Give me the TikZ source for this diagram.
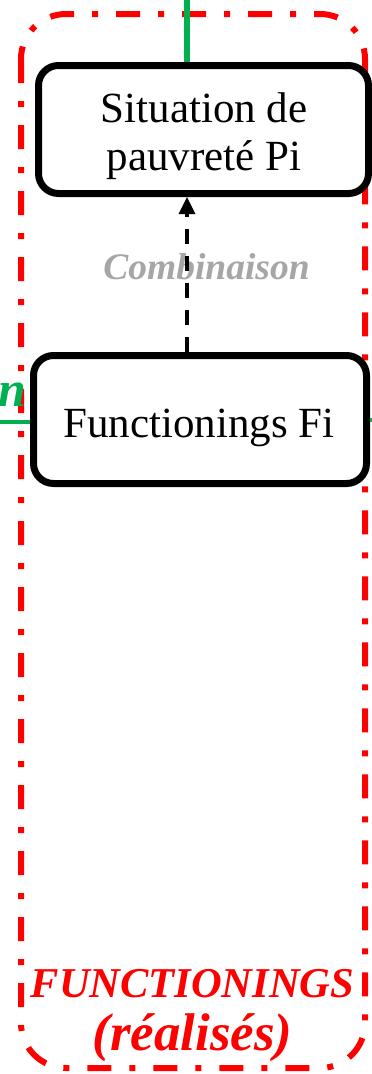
\documentclass[tikz,border=0pt]{standalone}
\usepackage{fontspec}
\setmainfont{Liberation Serif}
\usetikzlibrary{arrows.meta}
\definecolor{vert}{HTML}{00B050}
\definecolor{gris}{HTML}{A6A6A6}
\tikzset{
  box/.style={draw=black, line width=7pt, rounded corners=20pt, fill=white, inner sep=0pt},
  boxtext/.style={align=center, inner sep=0pt, font=\fontsize{43}{48}\selectfont},
  frame/.style={draw=red, line width=6pt, rounded corners=45pt,
    dash pattern=on 24pt off 18pt on 6pt off 18pt},
  greenline/.style={draw=vert},
  lbl/.style={font=\fontsize{37.5}{37.5}\selectfont\bfseries\itshape, inner sep=0pt},
  arr/.style={draw=black, line width=3.2pt, dash pattern=on 15pt off 12pt, -{Triangle[length=17pt,width=16pt]}}
}
\begin{document}
\begin{tikzpicture}[x=1pt,y=-1pt]
\useasboundingbox (0,0) rectangle (372,1074);
% red frame
\draw[frame] (21,14) rectangle (365,1068);
% boxes
\node[box, minimum width=330pt, minimum height=128pt] (b1) at (203.5,129.5) {};
\node[boxtext, anchor=base] (t1) at (204,122) {Situation de};
\node[boxtext, anchor=base] (t1b) at (204,170) {pauvreté Pi};
\node[box, minimum width=333pt, minimum height=128pt] (b2) at (200,419.5) {};
\node[boxtext, anchor=base] (t2) at (199,437) {Functionings Fi};
% label combinaison
\node[lbl, text=gris, anchor=base] (comb) at (206.5,279) {Combinaison};
% arrow
\coordinate (ax) at (187,0);
\draw[arr] (b2.north -| ax) -- (b1.south -| ax);
% green connectors
\coordinate (gtop) at (187,0);
\draw[greenline, line width=6.5pt] (gtop) -- (b1.north -| gtop);
\coordinate (gleft) at (0,422);
\draw[greenline, line width=4pt] (gleft) -- (gleft -| b2.west);
\coordinate (gright) at (372,419.5);
\draw[greenline, line width=4pt] (b2.east |- gright) -- (gright);
\node[lbl, text=vert, anchor=base east, font=\fontsize{50}{50}\selectfont\bfseries\itshape] (nlbl) at (27,406) {n};
% bottom labels
\node[lbl, text=red, anchor=base, font=\fontsize{42.5}{42.5}\selectfont\bfseries\itshape] (f1) at (192.5,997) {FUNCTIONINGS};
\node[lbl, text=red, anchor=base, font=\fontsize{53}{53}\selectfont\bfseries\itshape] (f2) at (192.5,1050) {(réalisés)};
\end{tikzpicture}
\end{document}
